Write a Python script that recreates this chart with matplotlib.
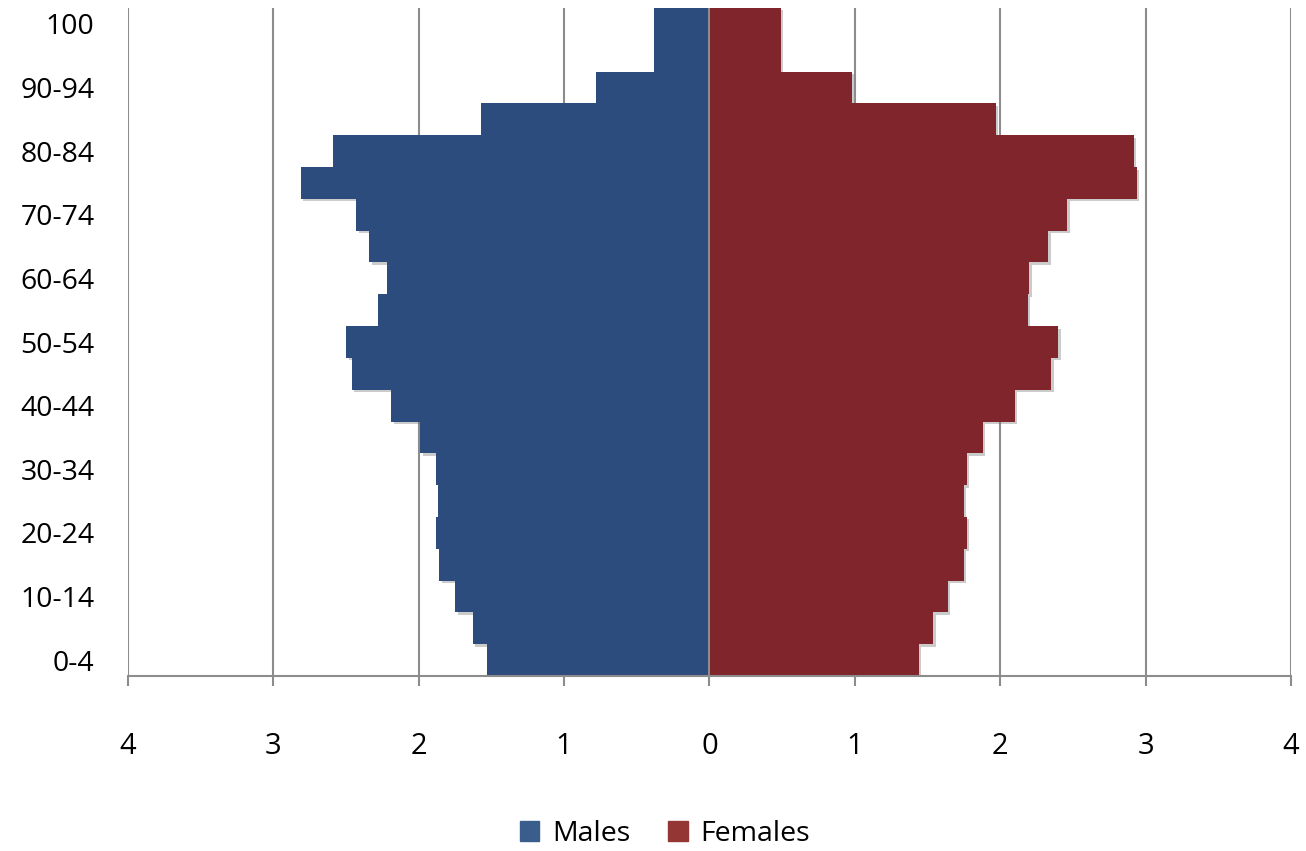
import matplotlib
matplotlib.use("Agg")
import matplotlib.pyplot as plt
import matplotlib.patheffects as pe
import matplotlib.transforms as mtransforms
import numpy as np

plt.rcParams['font.family'] = ['Open Sans', 'DejaVu Sans']

age_groups = ["0-4", "5-9", "10-14", "15-19", "20-24", "25-29", "30-34", "35-39",
              "40-44", "45-49", "50-54", "55-59", "60-64", "65-69", "70-74", "75-79",
              "80-84", "85-89", "90-94", "95-99", "100"]
males = [1.53, 1.63, 1.75, 1.86, 1.88, 1.87, 1.88, 1.99, 2.19, 2.46, 2.50, 2.28,
         2.22, 2.34, 2.43, 2.81, 2.59, 1.57, 0.78, 0.38, 0.38]
females = [1.44, 1.54, 1.64, 1.75, 1.77, 1.75, 1.77, 1.88, 2.10, 2.35, 2.40, 2.19,
           2.20, 2.33, 2.46, 2.94, 2.92, 1.97, 0.98, 0.49, 0.49]
x_ticks = [-4, -3, -2, -1, 0, 1, 2, 3, 4]

male_color = "#2C4C7D"
female_color = "#7F252B"

fig = plt.figure(figsize=(13.06, 8.51), dpi=100)
ax = fig.add_axes([0.098, 0.2056, 0.8905, 0.785])

y = np.arange(len(age_groups))
neg_males = [-v for v in males]

# soft shadows drawn first, underneath all bars
shadow_fx = [pe.SimplePatchShadow(offset=(1.8, -1.8), shadow_rgbFace="#6a6a6a", alpha=0.35)]
for vals in (neg_males, females):
    sb = ax.barh(y, vals, height=1.0, color="none", edgecolor="none", zorder=2)
    for p in sb:
        p.set_facecolor("white")
        p.set_path_effects(shadow_fx)

ax.barh(y, neg_males, height=1.0, color=male_color, edgecolor="none",
        label="Males", zorder=3)
ax.barh(y, females, height=1.0, color=female_color, edgecolor="none",
        label="Females", zorder=3)

ax.set_xlim(-4, 4)
ax.set_ylim(-0.5, len(age_groups) - 0.5)
ax.set_xticks(x_ticks)
ax.set_xticklabels([str(abs(t)) for t in x_ticks])
ax.set_yticks(y[::2])
ax.set_yticklabels(age_groups[::2])
off = mtransforms.ScaledTranslation(0, -4 / 100, fig.dpi_scale_trans)
for lbl in ax.get_yticklabels():
    lbl.set_verticalalignment('center_baseline')
    lbl.set_transform(lbl.get_transform() + off)

ax.xaxis.grid(True, color="#8c8c8c", linewidth=1.5, zorder=1)
ax.yaxis.grid(False)
ax.axvline(0, color="#8c8c8c", linewidth=1.5, zorder=4)

for s in ["top", "right", "left"]:
    ax.spines[s].set_visible(False)
ax.spines["bottom"].set_color("#8c8c8c")
ax.spines["bottom"].set_linewidth(1.5)
ax.spines["bottom"].set_zorder(5)

ax.tick_params(axis="x", direction="out", length=7, width=1.5, color="#8c8c8c",
               pad=33, labelsize=21, labelcolor="black")
ax.tick_params(axis="y", length=0, pad=24, labelsize=20.5, labelcolor="black")

handles = [plt.Rectangle((0, 0), 1, 1, color="#3A5E8C"),
           plt.Rectangle((0, 0), 1, 1, color="#943634")]
fig.legend(handles, ["Males", "Females"], loc="center", bbox_to_anchor=(0.509, 0.02),
           ncol=2, frameon=False, fontsize=20.5, handlelength=0.7, handleheight=0.7,
           handletextpad=0.45, columnspacing=1.3)

fig.savefig("out.png", dpi=100)
